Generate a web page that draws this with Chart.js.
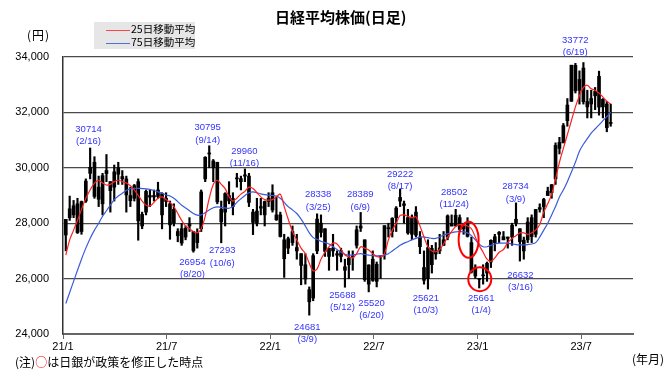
<!DOCTYPE html>
<html>
<head>
<meta charset="utf-8">
<script src="https://cdn.jsdelivr.net/npm/chart.js@4"></script>
<style>
    body { margin: 0; background: #fff; }
    #wrap { position: relative; width: 670px; height: 376px; font-family: "Noto Sans CJK JP", sans-serif; }
    .t { position: absolute; white-space: nowrap; line-height: 1; color: #000; }
    #legend { position: absolute; left: 94px; top: 22px; width: 101px; height: 27px; background: #e6e6e6; }
    #legend div { position: absolute; left: 12px; font-size: 10.5px; line-height: 1; white-space: nowrap; }
    #legend span { display: inline-block; width: 24px; height: 0; border-top: 1.5px solid; vertical-align: middle; margin-right: 1px; }
</style>
</head>
<body>
<div id="wrap">
    <canvas id="myChart" width="670" height="376"></canvas>
    <div class="t" style="left:275px; top:9px; font-size:15px; font-weight:bold;">日経平均株価(日足)</div>
    <div id="legend">
        <div style="top:2px;"><span style="border-color:#ff4444;"></span>25日移動平均</div>
        <div style="top:15px;"><span style="border-color:#4f6fdc;"></span>75日移動平均</div>
    </div>
    <div class="t" style="left:27px; top:29px; font-size:12px; letter-spacing:1px;">(円)</div>
    <div class="t" style="left:15px; top:356px; font-size:12px;">(注)<span style="color:#ff0000;">○</span>は日銀が政策を修正した時点</div>
    <div class="t" style="left:632px; top:353px; font-size:12px;">(年月)</div>
</div>
<script>
    // weekly candles, one per week starting Mon 2021/1/4
    const weekOpen = [
        27575, 28200, 28300, 28700, 27700, 28800, 29800, 30200, 29300, 28700, 29900, 29500, 29300,
        30000, 29600, 29600, 29000, 28900, 29500, 27900, 28400, 29000, 29000, 29200, 28300, 28900,
        28700, 28500, 27700, 27800, 27500, 27900, 27700, 27300, 27800, 29600, 30500, 30000, 30200,
        28500, 28400, 29000, 28600, 29600, 29500, 29700, 29700, 28400, 28000, 28600, 28300, 28900,
        29100, 28300, 28300, 27400, 27100, 27300, 27000, 26900, 26500, 25600, 25300, 27000, 28000,
        27800, 26800, 27000, 26900, 26800, 26300, 26500, 26800, 27200, 27900, 27400, 25800, 26700,
        25900, 26800, 26900, 27800, 27700, 28200, 28800, 28700, 28200, 27600, 28400, 27500, 26400,
        26000, 26500, 27000, 27000, 27400, 27500, 28000, 27900, 28200, 27800, 28000, 27300, 26400,
        26000, 26100, 26200, 26600, 27300, 27600, 27400, 27500, 27500, 28000, 27800, 27000, 27400,
        28200, 27600, 28500, 28600, 29000, 29100, 29600, 30700, 30900, 31700, 32400, 33700, 32800,
        33600, 32200, 32500, 32600, 33300, 32200, 32300, 31600
    ];
    const weekHigh = [
        28139, 28979, 28822, 28900, 28800, 29600, 30714, 30400, 29700, 29800, 30480, 29500, 30100,
        30200, 29900, 29700, 29300, 29400, 29600, 28400, 29200, 29200, 29200, 29480, 29100, 29100,
        28800, 28700, 27800, 28000, 27900, 28200, 27700, 27800, 29200, 30400, 30795, 30300, 30200,
        28800, 29100, 29500, 29100, 29800, 29700, 29960, 29800, 28500, 28900, 28900, 28800, 29100,
        29388, 28950, 28400, 27600, 27500, 27900, 27600, 26900, 26900, 25700, 26900, 28338, 28300,
        27800, 27100, 27600, 27000, 27100, 26700, 27000, 27000, 27900, 28389, 27400, 26500, 27000,
        26600, 26800, 27900, 28000, 28200, 28600, 29222, 28800, 28500, 28300, 28600, 27700, 27000,
        27400, 27200, 27300, 27600, 27700, 28300, 28300, 28502, 28300, 28000, 28200, 27500, 26500,
        26000, 26500, 26600, 27400, 27600, 27700, 27700, 27500, 28000, 28734, 27800, 27500, 28200,
        28300, 28500, 28700, 28900, 29300, 29400, 30900, 31100, 31600, 32500, 33700, 33772, 33500,
        33800, 32800, 32800, 32900, 33488, 32500, 32400, 32300
    ];
    const weekLow = [
        27002, 28100, 28200, 27629, 27600, 28750, 29600, 28900, 28600, 28300, 29500, 28400, 28800,
        29400, 29400, 28400, 28600, 28800, 27385, 27800, 28300, 28600, 28800, 28900, 27795, 28600,
        27419, 27900, 27330, 27200, 27400, 27700, 26954, 27100, 27700, 29500, 30000, 29500, 28700,
        27293, 27900, 28700, 28300, 29300, 29200, 29500, 28600, 27588, 27900, 28300, 27900, 28600,
        28400, 28100, 27500, 26044, 26900, 27200, 26700, 25776, 25800, 24681, 25200, 26900, 27500,
        26800, 26300, 26800, 26300, 26600, 25688, 26000, 26300, 27100, 27700, 25900, 25520, 25900,
        25700, 26000, 26700, 27500, 27500, 27700, 28600, 28000, 27600, 27400, 27500, 26900, 25800,
        25621, 26200, 26700, 26900, 27200, 27400, 27900, 27900, 27700, 27600, 27500, 26200, 26000,
        25661, 25800, 25900, 26400, 27000, 27300, 27400, 27100, 27200, 27900, 26632, 26700, 27300,
        27300, 27500, 28400, 28200, 29000, 28900, 29400, 30500, 30900, 31500, 32400, 32700, 32300,
        32300, 31800, 31800, 32100, 31900, 31800, 31300, 31500
    ];
    const weekClose = [
        28139, 28519, 28631, 27663, 28779, 29520, 30017, 28966, 28864, 29717, 29792, 29176, 29854,
        29768, 29683, 29020, 28812, 29357, 28084, 28317, 29149, 28941, 28948, 28964, 29066, 28783,
        27940, 28003, 27548, 27283, 27820, 27977, 27013, 27641, 29128, 30381, 30500, 30248, 28771,
        28048, 29068, 28804, 28892, 29611, 29609, 29745, 28751, 28029, 28437, 28545, 28782, 28791,
        28478, 28124, 27522, 26717, 27440, 27696, 27122, 26476, 25985, 25163, 26827, 28149, 27666,
        26985, 27093, 27105, 26847, 27003, 26427, 26739, 26781, 27761, 27824, 25963, 26491, 25935,
        26517, 26788, 27914, 27801, 28175, 28546, 28930, 28641, 27650, 28214, 27567, 27153, 25937,
        27116, 27090, 26890, 27105, 27199, 28263, 27899, 28283, 27777, 27901, 27527, 26235, 26094,
        25973, 26119, 26553, 27382, 27509, 27670, 27513, 27453, 27927, 28143, 27333, 27385, 28041,
        27518, 28493, 28564, 28856, 29157, 29388, 30808, 30916, 31524, 32265, 33706, 32781, 33189,
        32388, 32391, 32304, 32759, 32192, 32473, 31450, 31624
    ];
    const ma25 = [
        26850, 27400, 27750, 28100, 28500, 28900, 29200, 29450, 29550, 29450, 29380, 29400, 29500,
        29550, 29500, 29450, 29350, 29200, 29000, 28800, 28650, 28620, 28750, 28900, 28950, 28850,
        28750, 28600, 28350, 28100, 27900, 27800, 27700, 27650, 27800, 28250, 28900, 29400, 29550,
        29400, 29250, 28950, 28800, 28900, 29050, 29150, 29300, 29250, 29100, 28950, 28850, 28830,
        28850, 28950, 29050, 28600, 28150, 27700, 27400, 27100, 26900, 26550, 26280, 26350, 26700,
        26950, 27150, 27280, 27250, 27050, 26850, 26790, 26750, 26900, 27150, 27100, 27030, 26900,
        26800, 26780, 26900, 27400, 27750, 28000, 28280, 28300, 28250, 28200, 28230, 27900, 27500,
        27150, 27000, 26970, 27050, 27250, 27500, 27700, 27880, 27950, 27930, 27900, 27800, 27500,
        27200, 26950, 26700, 26620, 26750, 26950, 27050, 27300, 27450, 27550, 27650, 27650, 27600,
        27650, 27750, 27950, 28400, 28700, 29050, 29600, 30200, 30700, 31200, 31700, 32200, 32600,
        32900, 32980, 32850, 32800, 32700, 32550, 32400, 32300
    ];
    const ma75 = [
        25100, 25500, 25900, 26300, 26700, 27100, 27450, 27750, 28000, 28250, 28450, 28650, 28850,
        28980, 29080, 29180, 29250, 29260, 29260, 29250, 29240, 29220, 29180, 29130, 29080, 29020,
        28980, 28900, 28780, 28650, 28550, 28450, 28350, 28290, 28300, 28380, 28480, 28560, 28590,
        28570, 28550, 28540, 28600, 28750, 28880, 29000, 29100, 29130, 29100, 29060, 29030, 29010,
        29000, 28980, 28900, 28750, 28600, 28480, 28350, 28150, 27900, 27650, 27480, 27420, 27350,
        27300, 27250, 27150, 27050, 26950, 26880, 26850, 26850, 26880, 26900, 26870, 26850, 26830,
        26820, 26830, 26850, 26900, 27000, 27100, 27200, 27280, 27330, 27400, 27450, 27500, 27500,
        27480, 27450, 27450, 27500, 27570, 27620, 27660, 27690, 27700, 27690, 27650, 27550, 27400,
        27250, 27150, 27150, 27200, 27250, 27280, 27280, 27280, 27250, 27230, 27220, 27220, 27230,
        27250, 27300, 27500, 27750, 28000, 28300, 28600, 28950, 29200, 29500, 29850, 30200, 30600,
        30850, 31050, 31250, 31400, 31550, 31700, 31850, 32000
    ];

    const xTicks = [0, 6, 12, 18, 24, 30];
    const xTickLabels = ['21/1', '21/7', '22/1', '22/7', '23/1', '23/7'];

    // highs / lows written on the chart
    const peakDates = ['21/2/16', '21/9/14', '21/11/16', '22/3/25', '22/6/9', '22/8/17', '22/11/24', '23/3/9', '23/6/19',
                       '21/8/20', '21/10/6', '22/3/9', '22/5/12', '22/6/20', '22/10/3', '23/1/4', '23/3/16'];
    const peakValues = [30714, 30795, 29960, 28338, 28389, 29222, 28502, 28734, 33772,
                        26954, 27293, 24681, 25688, 25520, 25621, 25661, 26632];
    // label offset from the point [dx, dy of first line]
    const labelShift = [[-1, -19], [-1, -18], [0, -18], [0, -19], [-1, -18], [0, -15], [-2, -17], [-1, -16], [1, -23],
                        [-2, 10], [1, 8], [-2, 12], [-3, 8], [4, 11], [-1, 9], [2, 10], [0, 14]];

    // BOJ policy change circles: centre date, value, radii in px
    const bojDates = ['22/12/16', '23/1/5'];
    const bojValues = [27400, 25980];
    const bojRadii = [[10, 18], [11.5, 12]];

    function daysIn(y, m) { return new Date(y, m + 1, 0).getDate(); }
    function toMonth(s) {
        const p = s.split('/').map(Number);
        const y = 2000 + p[0];
        return (y - 2021) * 12 + (p[1] - 1) + (p[2] - 1) / daysIn(y, p[1] - 1);
    }
    const weekX = weekClose.map((v, i) => {
        const d = new Date(2021, 0, 6 + 7 * i);
        return (d.getFullYear() - 2021) * 12 + d.getMonth() + (d.getDate() - 1) / daysIn(d.getFullYear(), d.getMonth());
    });

    const marks = {
        id: 'marks',
        afterDatasetsDraw(chart) {
            const ctx = chart.ctx;
            const x = chart.scales.x, y = chart.scales.y;
            ctx.save();
            ctx.font = '9.5px "Liberation Sans"';
            ctx.fillStyle = '#3333ff';
            ctx.textAlign = 'center';
            ctx.textBaseline = 'middle';
            peakDates.forEach((d, i) => {
                const px = x.getPixelForValue(toMonth(d)) + labelShift[i][0];
                const py = y.getPixelForValue(peakValues[i]) + labelShift[i][1];
                const p = d.split('/');
                ctx.fillText(String(peakValues[i]), px, py);
                ctx.fillText('(' + p[1] + '/' + p[2] + ')', px, py + 12.5);
            });
            ctx.strokeStyle = '#ff0000';
            ctx.lineWidth = 2;
            bojDates.forEach((d, i) => {
                ctx.beginPath();
                ctx.ellipse(x.getPixelForValue(toMonth(d)), y.getPixelForValue(bojValues[i]),
                    bojRadii[i][0], bojRadii[i][1], 0, 0, Math.PI * 2);
                ctx.stroke();
            });
            ctx.restore();
        }
    };

    var ctx = document.getElementById('myChart').getContext('2d');
    var priceChart = new Chart(ctx, {
        type: 'bar',
        data: {
            datasets: [
                {
                    type: 'line',
                    label: '25日移動平均',
                    data: weekX.map((v, i) => ({ x: v, y: ma25[i] })),
                    borderColor: '#ff2020',
                    borderWidth: 1.2,
                    pointRadius: 0,
                    tension: 0.35,
                    order: 0,
                },
                {
                    type: 'line',
                    label: '75日移動平均',
                    data: weekX.map((v, i) => ({ x: v, y: ma75[i] })),
                    borderColor: '#3b5bdb',
                    borderWidth: 1.2,
                    pointRadius: 0,
                    tension: 0.35,
                    order: 1,
                },
                {
                    label: 'wick',
                    data: weekX.map((v, i) => ({ x: v, y: [weekLow[i], weekHigh[i]] })),
                    backgroundColor: '#000',
                    barThickness: 1.5,
                    grouped: false,
                    order: 3,
                },
                {
                    label: 'body',
                    data: weekX.map((v, i) => ({ x: v, y: [weekOpen[i], weekClose[i]] })),
                    backgroundColor: '#000',
                    barThickness: 3,
                    minBarLength: 1,
                    grouped: false,
                    order: 2,
                }
            ]
        },
        options: {
            responsive: false,
            animation: false,
            devicePixelRatio: 1,
            layout: { padding: { left: 0, right: 37, top: 57, bottom: 0 } },
            plugins: { legend: { display: false }, tooltip: { enabled: false } },
            scales: {
                x: {
                    type: 'linear',
                    min: 0,
                    max: 33,
                    offset: false,
                    afterFit: s => { s.height = 42; },
                    afterBuildTicks: s => { s.ticks = xTicks.map(v => ({ value: v })); },
                    grid: { drawOnChartArea: false, drawTicks: true, tickLength: 5, color: '#666', offset: false },
                    border: { color: '#666', width: 2 },
                    ticks: {
                        callback: (v, i) => xTickLabels[i],
                        color: '#000',
                        font: { family: 'Liberation Sans', size: 11 },
                        padding: 1,
                        maxRotation: 0,
                    }
                },
                y: {
                    min: 24000,
                    max: 34000,
                    afterFit: s => { s.width = 63; },
                    grid: { color: '#4a4a4a', lineWidth: 1.3, drawTicks: false },
                    border: { color: '#333', width: 1.5 },
                    ticks: {
                        stepSize: 2000,
                        callback: v => v.toLocaleString('en-US'),
                        color: '#000',
                        font: { family: 'Liberation Sans', size: 11 },
                        padding: 14,
                    }
                }
            }
        },
        plugins: [marks]
    });
</script>
</body>
</html>
